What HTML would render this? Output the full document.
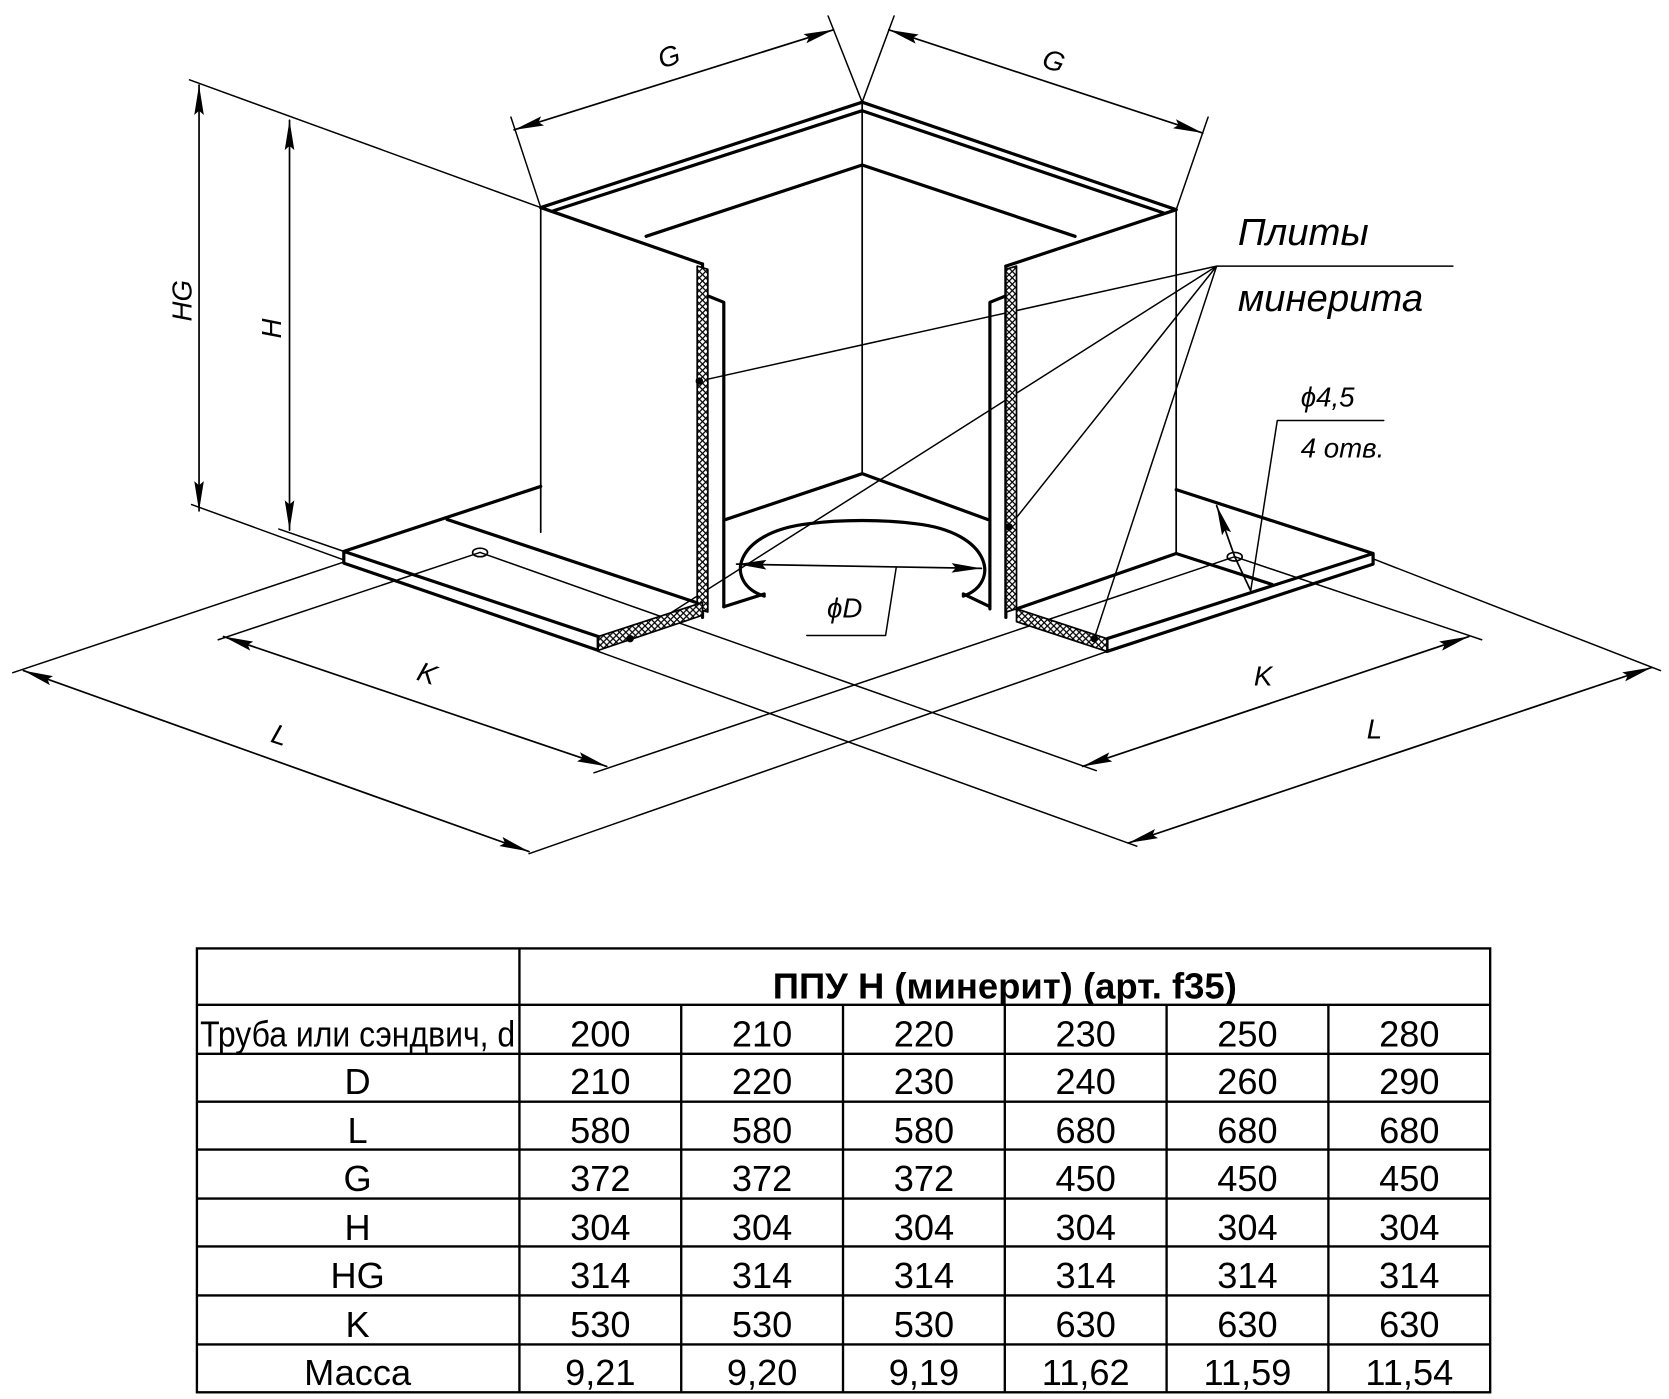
<!DOCTYPE html>
<html><head><meta charset="utf-8"><style>
html,body{margin:0;padding:0;background:#fff;}
svg{display:block;}
.t{font-family:"Liberation Sans","Noto Sans CJK SC",sans-serif;}
.i{font-family:"Liberation Sans","Noto Sans CJK SC",sans-serif;font-style:italic;font-weight:normal;}
</style></head><body>
<svg width="1669" height="1399" viewBox="0 0 1568 1314.3" preserveAspectRatio="none" xmlns="http://www.w3.org/2000/svg">
<defs>
<marker id="a" viewBox="0 0 28 10" refX="28" refY="5" markerWidth="28" markerHeight="10" markerUnits="userSpaceOnUse" orient="auto-start-reverse"><path d="M0,0.5 L28,5 L0,9.5 L4,5 Z" fill="#000"/></marker>
<pattern id="h" width="6" height="6" patternUnits="userSpaceOnUse"><rect width="6" height="6" fill="#fff"/><path d="M0,0L6,6M6,0L0,6" stroke="#000" stroke-width="1.2"/></pattern>
</defs>
<rect width="1568" height="1315" fill="#fff"/>
<g fill="none" stroke="#000" stroke-linejoin="round" stroke-linecap="round">
<g stroke-width="1.4">
<path d="M480,110 L508,195 M778,15 L810,96 M840,15 L810,96 M1135,110 L1105,197"/>
<path d="M178,75 L508,195"/>
<path d="M180,474 L323,526 M262,497 L323,518"/>
<path d="M323,528 L12,632 M451,519 L205,601 M451,519 L1030,724 M562,612 L1068,795"/>
<path d="M1040,612 L497,802 M1160,523 L558,726 M1160,523 L1392,601 M1290,525 L1560,630"/>
<path d="M1143,250 L657,358 M1143,250 L948,495 M1143,250 L1028,600 M1143,250 L592,600 M1143,250 L1365,250"/>
<path d="M1175,555 L1200,395 L1300,395 M842,533 L832,597 L758,597"/>
</g>
<g stroke-width="1.6" marker-start="url(#a)" marker-end="url(#a)">
<path d="M483,122 L783,28"/>
<path d="M835,28 L1130,125"/>
<path d="M187,80 L187,480"/>
<path d="M272,113 L272,498"/>
<path d="M210,598 L570,720"/>
<path d="M22,630 L497,800"/>
<path d="M1017,720 L1380,598"/>
<path d="M1060,792 L1552,627"/>
<path d="M692,530 L922,534"/>
</g>
<path d="M1143,475 L1160,523 L1175,555" stroke-width="1.6" marker-start="url(#a)"/>
<g stroke-width="3">
<path d="M508,195 L810,96 L1105,197"/>
<path d="M520,198 L810,104 L1093,200"/>
<path d="M607,222 L810,155 L1010,222"/>
<path d="M508,195 L660,248 M1105,197 L945,250"/>
<path d="M660,248 L660,580 M945,250 L945,580"/>
<path d="M665,278 L680,284 L680,570 M945,278 L930,284 L930,572"/>
<path d="M810,445 L682,488 M810,445 L928,488"/>
<path d="M323,518 L508,457 M323,518 L562,598 L562,611 L323,529 Z"/>
<path d="M420,488 L660,568"/>
<path d="M680,570 L718,558 M905,558 L930,570"/>
<path d="M718,560 C680,548 688,500 760,492 C790,488 830,488 860,492 C932,500 940,548 905,560"/>
<path d="M1105,460 L1290,520 L1290,530 L1040,612 L1040,600 L1290,520"/>
<path d="M1105,520 L955,572 M1105,520 L1195,549"/>
</g>
<g stroke-width="1.6">
<path d="M508,195 L508,500 M1105,197 L1105,520 M810,96 L810,445"/>
</g>
<g stroke-width="1.6" fill="url(#h)">
<path d="M655,250 L665,253 L665,575 L655,572 Z"/>
<path d="M945,253 L955,250 L955,572 L945,575 Z"/>
<path d="M562,598 L660,566 L660,578 L562,611 Z"/>
<path d="M955,572 L1040,600 L1040,612 L955,584 Z"/>
</g>
<ellipse cx="451" cy="519" rx="7" ry="4" stroke-width="1.6"/>
<ellipse cx="1160" cy="523" rx="7" ry="4" stroke-width="1.6"/>
<g fill="#000" stroke="none"><circle cx="657" cy="358" r="3.5"/><circle cx="948" cy="495" r="3.5"/><circle cx="1028" cy="600" r="3.5"/><circle cx="592" cy="600" r="3.5"/></g>
</g>
<g class="i" fill="#000">
<text x="618" y="62" font-size="26" transform="rotate(-18 628 52)">G</text>
<text x="980" y="66" font-size="26" transform="rotate(18 990 57)">G</text>
<text x="0" y="0" font-size="26" transform="translate(180,302) rotate(-90)">HG</text>
<text x="0" y="0" font-size="26" transform="translate(264,318) rotate(-90)">H</text>
<text x="393" y="642" font-size="26" transform="rotate(18 403 632)">K</text>
<text x="256" y="700" font-size="26" transform="rotate(18 265 690)">L</text>
<text x="1178" y="644" font-size="26">K</text>
<text x="1284" y="694" font-size="26">L</text>
<text x="777" y="580" font-size="26">ϕD</text>
<text x="1163" y="230" font-size="36">Плиты</text>
<text x="1163" y="292" font-size="36">минерита</text>
<text x="1222" y="382" font-size="26">ϕ4,5</text>
<text x="1222" y="430" font-size="26">4 отв.</text>
</g>
<g stroke="#000" stroke-width="2.2" fill="none">
<rect x="185" y="891" width="1215" height="417"/>
<path d="M488,891 V1308 M185,944 H1400 M185,990 H1400 M185,1035 H1400 M185,1080 H1400 M185,1126 H1400 M185,1171 H1400 M185,1217 H1400 M185,1263 H1400"/>
<path d="M640,944 V1308 M792,944 V1308 M944,944 V1308 M1096,944 V1308 M1248,944 V1308"/>
</g>
<g class="t" fill="#000" font-size="34" text-anchor="middle">
<text x="944" y="938" font-weight="bold" textLength="436" lengthAdjust="spacingAndGlyphs">ППУ Н (минерит) (арт. f35)</text>
<text x="336" y="983" textLength="296" lengthAdjust="spacingAndGlyphs">Труба или сэндвич, d</text>
<text x="564" y="983">200</text><text x="716" y="983">210</text><text x="868" y="983">220</text><text x="1020" y="983">230</text><text x="1172" y="983">250</text><text x="1324" y="983">280</text>
<text x="336" y="1028">D</text><text x="564" y="1028">210</text><text x="716" y="1028">220</text><text x="868" y="1028">230</text><text x="1020" y="1028">240</text><text x="1172" y="1028">260</text><text x="1324" y="1028">290</text>
<text x="336" y="1074">L</text><text x="564" y="1074">580</text><text x="716" y="1074">580</text><text x="868" y="1074">580</text><text x="1020" y="1074">680</text><text x="1172" y="1074">680</text><text x="1324" y="1074">680</text>
<text x="336" y="1119">G</text><text x="564" y="1119">372</text><text x="716" y="1119">372</text><text x="868" y="1119">372</text><text x="1020" y="1119">450</text><text x="1172" y="1119">450</text><text x="1324" y="1119">450</text>
<text x="336" y="1165">H</text><text x="564" y="1165">304</text><text x="716" y="1165">304</text><text x="868" y="1165">304</text><text x="1020" y="1165">304</text><text x="1172" y="1165">304</text><text x="1324" y="1165">304</text>
<text x="336" y="1210">HG</text><text x="564" y="1210">314</text><text x="716" y="1210">314</text><text x="868" y="1210">314</text><text x="1020" y="1210">314</text><text x="1172" y="1210">314</text><text x="1324" y="1210">314</text>
<text x="336" y="1256">K</text><text x="564" y="1256">530</text><text x="716" y="1256">530</text><text x="868" y="1256">530</text><text x="1020" y="1256">630</text><text x="1172" y="1256">630</text><text x="1324" y="1256">630</text>
<text x="336" y="1301">Масса</text><text x="564" y="1301">9,21</text><text x="716" y="1301">9,20</text><text x="868" y="1301">9,19</text><text x="1020" y="1301">11,62</text><text x="1172" y="1301">11,59</text><text x="1324" y="1301">11,54</text>
</g>
</svg>
</body></html>
